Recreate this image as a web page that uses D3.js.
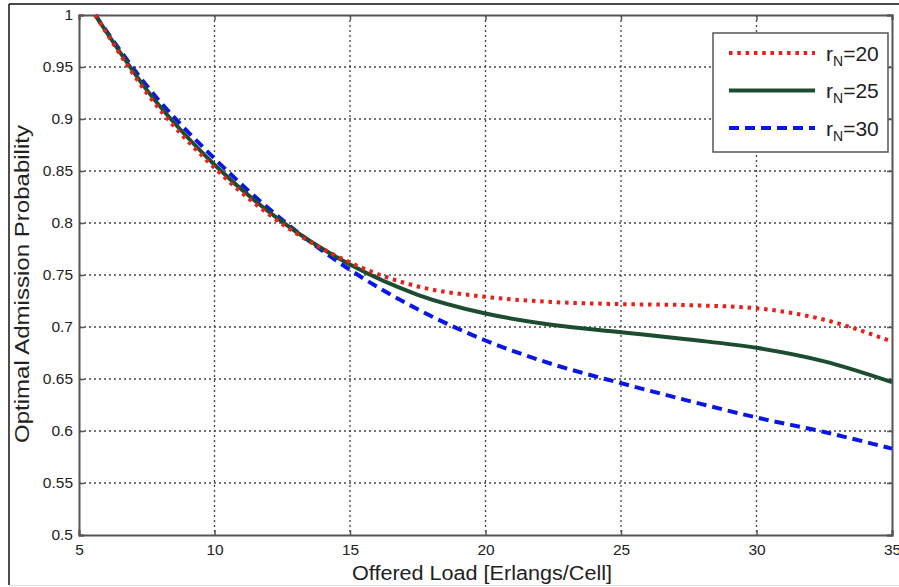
<!DOCTYPE html>
<html>
<head>
<meta charset="utf-8">
<script src="https://cdn.jsdelivr.net/npm/d3@7"></script>
<style>
  body { margin: 0; background: #fff; }
  text { font-family: "Liberation Sans", Arial, sans-serif; fill: #222; }
</style>
</head>
<body>
<div id="chart"></div>
<script>
// Data
var loads = [5.6, 7.5, 10, 12.5, 15, 17.5, 20, 22.5, 25, 27.5, 30, 32.5, 35];
var rN20 = [1.0, 0.925, 0.853, 0.799, 0.762, 0.739, 0.729, 0.724, 0.722, 0.721, 0.718, 0.707, 0.686];
var rN25 = [1.0, 0.928, 0.856, 0.801, 0.760, 0.731, 0.713, 0.702, 0.695, 0.688, 0.680, 0.667, 0.647];
var rN30 = [1.0, 0.932, 0.862, 0.803, 0.755, 0.717, 0.687, 0.664, 0.646, 0.629, 0.613, 0.599, 0.583];
var xTicks = [5, 10, 15, 20, 25, 30, 35];
var yTicks = [0.5, 0.55, 0.6, 0.65, 0.7, 0.75, 0.8, 0.85, 0.9, 0.95, 1];
var seriesNames = ["20", "25", "30"];

var svgWidth = 899;
var svgHeight = 587;
var margin = {top: 15, right: 7, bottom: 52, left: 79};
var width = svgWidth - margin.left - margin.right;
var height = svgHeight - margin.top - margin.bottom;

var svg = d3.select("#chart")
  .append("svg")
  .attr("width", svgWidth)
  .attr("height", svgHeight);

// outer frame of the figure
svg.append("line").attr("x1", 9).attr("x2", 899).attr("y1", 4).attr("y2", 4)
  .attr("stroke", "#111").attr("stroke-width", 1.5);
svg.append("line").attr("x1", 9).attr("x2", 9).attr("y1", 4).attr("y2", 585)
  .attr("stroke", "#111").attr("stroke-width", 1.5);
svg.append("line").attr("x1", 9).attr("x2", 899).attr("y1", 585.5).attr("y2", 585.5)
  .attr("stroke", "#ddd").attr("stroke-width", 1);

var chartGroup = svg.append("g")
  .attr("transform", `translate(${margin.left}, ${margin.top})`);

var xScale = d3.scaleLinear().domain([5, 35]).range([0, width]);
var yScale = d3.scaleLinear().domain([0.5, 1]).range([height, 0]);

// grid lines
chartGroup.append("g")
  .selectAll("line")
  .data(xTicks.slice(1, -1))
  .enter()
  .append("line")
  .attr("x1", d => xScale(d)).attr("x2", d => xScale(d))
  .attr("y1", 0).attr("y2", height)
  .attr("stroke", "#444").attr("stroke-width", 1.3)
  .attr("stroke-dasharray", "2,3");

chartGroup.append("g")
  .selectAll("line")
  .data(yTicks.slice(1, -1))
  .enter()
  .append("line")
  .attr("x1", 0).attr("x2", width)
  .attr("y1", d => yScale(d)).attr("y2", d => yScale(d))
  .attr("stroke", "#444").attr("stroke-width", 1.3)
  .attr("stroke-dasharray", "2,3");

// axes with inward ticks
var bottomAxis = d3.axisBottom(xScale).tickValues(xTicks).tickSize(-5).tickPadding(9)
  .tickFormat(d3.format("d"));
var topAxis = d3.axisTop(xScale).tickValues(xTicks).tickSize(-5).tickFormat("");
var leftAxis = d3.axisLeft(yScale).tickValues(yTicks).tickSize(-5).tickPadding(6)
  .tickFormat(d => d3.format("")(d));
var rightAxis = d3.axisRight(yScale).tickValues(yTicks).tickSize(-5).tickFormat("");

function styleAxis(g) {
  g.select(".domain").attr("stroke", "#555").attr("stroke-width", 2);
  g.selectAll(".tick line").attr("stroke", "#555").attr("stroke-width", 1.5);
  g.selectAll(".tick text").style("font-size", "15.5px").attr("fill", "#333");
}

chartGroup.append("g").attr("transform", `translate(0, ${height})`).call(bottomAxis).call(styleAxis);
chartGroup.append("g").call(topAxis).call(styleAxis);
chartGroup.append("g").call(leftAxis).call(styleAxis);
chartGroup.append("g").attr("transform", `translate(${width}, 0)`).call(rightAxis).call(styleAxis);

// series lines
var series = [
  {name: seriesNames[0], values: rN20, color: "#e8201c", dash: "3.5,4.8", width: 4},
  {name: seriesNames[1], values: rN25, color: "#1c4d30", dash: null, width: 4},
  {name: seriesNames[2], values: rN30, color: "#0a16e8", dash: "10,6", width: 4}
];

var line = d3.line()
  .x((d, i) => xScale(loads[i]))
  .y(d => yScale(d))
  .curve(d3.curveMonotoneX);

chartGroup.selectAll(".series")
  .data(series.slice().reverse())
  .enter()
  .append("path")
  .attr("class", "series")
  .attr("d", d => line(d.values))
  .attr("fill", "none")
  .attr("stroke", d => d.color)
  .attr("stroke-width", d => d.width)
  .attr("stroke-dasharray", d => d.dash);

// legend
var legend = svg.append("g").attr("transform", "translate(713, 33)");
legend.append("rect")
  .attr("width", 175).attr("height", 119)
  .attr("fill", "#fff").attr("stroke", "#555").attr("stroke-width", 1.5);

var legendRows = legend.selectAll(".row")
  .data(series)
  .enter()
  .append("g")
  .attr("transform", (d, i) => `translate(0, ${20 + i * 37.5})`);

legendRows.append("line")
  .attr("x1", 16).attr("x2", 102)
  .attr("stroke", d => d.color)
  .attr("stroke-width", d => d.width)
  .attr("stroke-dasharray", d => d.dash);

var lt = legendRows.append("text")
  .attr("x", 113).attr("y", 7.5)
  .style("font-size", "21px");
lt.append("tspan").text("r");
lt.append("tspan").attr("dy", 5).style("font-size", "14px").text("N");
lt.append("tspan").attr("dy", -5).text(d => "=" + d.name);

// axis labels
svg.append("text")
  .attr("transform", "translate(29, 284) rotate(-90)")
  .style("text-anchor", "middle")
  .style("font-size", "20px")
  .attr("textLength", 318)
  .attr("lengthAdjust", "spacingAndGlyphs")
  .text("Optimal Admission Probability");

svg.append("text")
  .attr("x", 482).attr("y", 580)
  .style("text-anchor", "middle")
  .style("font-size", "20px")
  .attr("textLength", 260)
  .attr("lengthAdjust", "spacingAndGlyphs")
  .text("Offered Load [Erlangs/Cell]");
</script>
</body>
</html>
